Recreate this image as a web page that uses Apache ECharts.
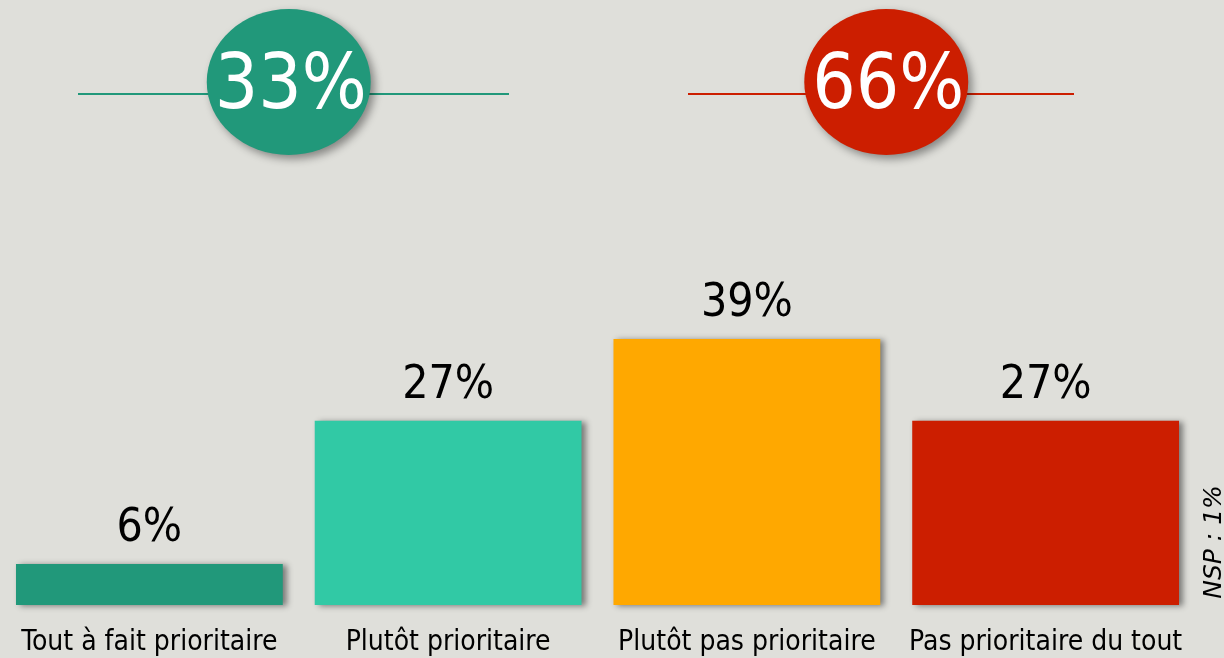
<!DOCTYPE html>
<html><head><meta charset="utf-8">
<script src="https://cdn.jsdelivr.net/npm/echarts@6/dist/echarts.min.js"></script>
<style>html,body{margin:0;padding:0;background:#DFDFDA;}#c{width:1224px;height:658px;}</style>
</head><body><div id="c"></div>
<script>
const categories = ['Tout à fait prioritaire', 'Plutôt prioritaire', 'Plutôt pas prioritaire', 'Pas prioritaire du tout'];
const values = [6, 27, 39, 27];
const barColors = ['#21987A', '#31C9A5', '#FFA800', '#CC1E00'];
const groupTotals = [33, 66];
const groupColors = ['#21987A', '#CC1E00'];
const groupCenters = [1, 3]; // boundary between the two categories of each group
const nspText = 'NSP : 1%';

const FONT = '"DejaVu Sans Condensed", "DejaVu Sans", sans-serif';
const chart = echarts.init(document.getElementById('c'), null, {renderer: 'canvas'});
chart.setOption({
  backgroundColor: '#DFDFDA',
  animation: false,
  grid: [
    {left: -2, width: 1197, bottom: 53, top: 59.4},
    {left: -2, width: 1197, top: 9, height: 146}
  ],
  xAxis: [
    {type: 'category', data: categories, gridIndex: 0,
     axisLine: {show: false}, axisTick: {show: false},
     axisLabel: {fontFamily: FONT, fontSize: 28, color: '#000', margin: 24, interval: 0}},
    {type: 'value', gridIndex: 1, min: 0, max: 4, show: false}
  ],
  yAxis: [
    {type: 'value', gridIndex: 0, min: 0, max: 80, show: false},
    {type: 'value', gridIndex: 1, min: -1, max: 1, show: false}
  ],
  series: [
    {type: 'bar', xAxisIndex: 0, yAxisIndex: 0, barCategoryGap: '10.7%',
     data: values.map((v, i) => ({value: v, itemStyle: {color: barColors[i]}})),
     itemStyle: {shadowColor: 'rgba(0,0,0,0.45)', shadowBlur: 6, shadowOffsetX: 4, shadowOffsetY: 1},
     label: {show: true, position: 'top', distance: 12, formatter: '{c}%',
             fontFamily: FONT, fontSize: 46, color: '#000'}},
    {type: 'scatter', xAxisIndex: 1, yAxisIndex: 1, z: 5,
     symbol: 'circle', symbolSize: [164, 146], symbolOffset: [-10, 0],
     data: groupTotals.map((v, i) => ({value: [groupCenters[i], 0, v], itemStyle: {color: groupColors[i]}})),
     itemStyle: {opacity: 1, shadowColor: 'rgba(0,0,0,0.4)', shadowBlur: 8, shadowOffsetX: 4, shadowOffsetY: 4},
     emphasis: {disabled: true},
     label: {show: true, position: 'inside', offset: [2, 6], formatter: p => p.value[2] + '%',
             fontFamily: FONT, fontSize: 76, color: '#fff'}}
  ],
  graphic: [
    {type: 'line', z: 1, shape: {x1: 78, y1: 94, x2: 509, y2: 94}, style: {stroke: groupColors[0], lineWidth: 2}},
    {type: 'line', z: 1, shape: {x1: 688, y1: 94, x2: 1074, y2: 94}, style: {stroke: groupColors[1], lineWidth: 2}},
    {type: 'text', x: 1214, y: 542, rotation: Math.PI / 2,
     style: {text: nspText, font: 'italic 25px "DejaVu Sans", sans-serif', fill: '#000', textAlign: 'center', textVerticalAlign: 'middle'}}
  ]
});
</script></body></html>
